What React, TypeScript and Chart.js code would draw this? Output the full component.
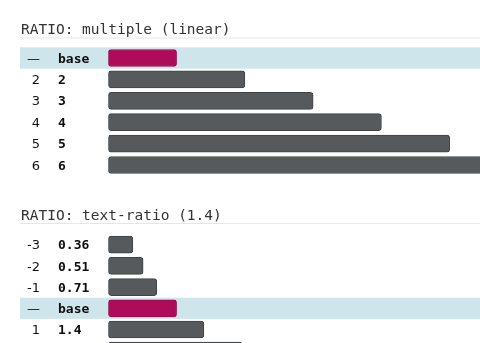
import React, { useEffect, useRef } from "react";
import { Chart, registerables } from "chart.js";

Chart.register(...registerables);

// Section 1: multiple (linear)
const linearTitle = "RATIO: multiple (linear)";
const linearSteps = ["—", "2", "3", "4", "5", "6"];
const linearLabels = ["base", "2", "3", "4", "5", "6"];
const linearValues = [1, 2, 3, 4, 5, 6];

// Section 2: text-ratio (1.4)
const ratioTitle = "RATIO: text-ratio (1.4)";
const ratioSteps = ["-3", "-2", "-1", "—", "1", "2"];
const ratioLabels = ["0.36", "0.51", "0.71", "base", "1.4", "1.96"];
const ratioValues = [0.36, 0.51, 0.71, 1, 1.4, 1.96];

const X_MAX = 6;
const BASE_COLOR = "#ae0b5b";
const BASE_BORDER = "#960a4f";
const BAR_COLOR = "#565a5d";
const BAR_BORDER = "#3f4346";
const HIGHLIGHT = "#cfe5ec";

type Cfg = {
  title: string;
  steps: string[];
  labels: string[];
  values: number[];
  titleBaseline: number;
  lineY: number;
  padTop: number;
  padBottom: number;
};

function makePlugin(cfg: Cfg) {
  return {
    id: "rowDecor",
    beforeDatasetsDraw(chart: any) {
      const ctx = chart.ctx as CanvasRenderingContext2D;
      const y = chart.scales.y;
      const w = chart.width;
      ctx.save();
      // title
      ctx.font = '14.5px "DejaVu Sans Mono"';
      ctx.fillStyle = "#333333";
      ctx.textAlign = "left";
      ctx.textBaseline = "alphabetic";
      ctx.fillText(cfg.title, 21, cfg.titleBaseline);
      ctx.fillStyle = "#e6e6e6";
      ctx.fillRect(20, cfg.lineY, w - 20, 1);
      // highlight row
      const pitch = Math.abs(y.getPixelForValue(1) - y.getPixelForValue(0));
      cfg.labels.forEach((lab, i) => {
        if (lab === "base") {
          const cy = y.getPixelForValue(i);
          ctx.fillStyle = HIGHLIGHT;
          ctx.fillRect(20, cy - pitch / 2, w - 20, pitch);
        }
      });
      // row texts
      cfg.labels.forEach((lab, i) => {
        const cy = y.getPixelForValue(i);
        ctx.fillStyle = "#111111";
        ctx.font = '13px "DejaVu Sans"';
        ctx.textAlign = "right";
        ctx.fillText(cfg.steps[i], 40, cy + 4.6);
        ctx.font = 'bold 13px "DejaVu Sans Mono"';
        ctx.textAlign = "left";
        ctx.fillStyle = "#0d0d0d";
        ctx.fillText(lab, 58, cy + 4.6);
      });
      ctx.restore();
    },
  };
}

function Section({ cfg, top }: { cfg: Cfg; top: number }) {
  const ref = useRef<HTMLCanvasElement | null>(null);
  useEffect(() => {
    if (!ref.current) return;
    const isBase = cfg.labels.map((l) => l === "base");
    const chart = new Chart(ref.current, {
      type: "bar",
      data: {
        labels: cfg.labels,
        datasets: [
          {
            data: cfg.values,
            backgroundColor: isBase.map((b) => (b ? BASE_COLOR : BAR_COLOR)),
            borderColor: isBase.map((b) => (b ? BASE_BORDER : BAR_BORDER)),
            borderWidth: 1,
            borderRadius: 3,
            borderSkipped: false,
            barThickness: 17,
          },
        ],
      },
      options: {
        indexAxis: "y",
        animation: false,
        responsive: false,
        devicePixelRatio: 1,
        layout: {
          padding: { left: 108.3, right: 2, top: cfg.padTop, bottom: cfg.padBottom },
        },
        plugins: {
          legend: { display: false },
          tooltip: { enabled: false },
          title: { display: false },
        },
        scales: {
          x: { type: "linear", min: 0, max: X_MAX, display: false },
          y: { type: "category", display: false, offset: true },
        },
      },
      plugins: [makePlugin(cfg)],
    } as any);
    return () => chart.destroy();
  }, [cfg]);
  return (
    <canvas
      ref={ref}
      width={520}
      height={190}
      style={{ position: "absolute", left: 0, top, width: 520, height: 190 }}
    />
  );
}

const cfg1: Cfg = {
  title: linearTitle,
  steps: linearSteps,
  labels: linearLabels,
  values: linearValues,
  titleBaseline: 34,
  lineY: 37.5,
  padTop: 47.3,
  padBottom: 14.3,
};

const cfg2: Cfg = {
  title: ratioTitle,
  steps: ratioSteps,
  labels: ratioLabels,
  values: ratioValues,
  titleBaseline: 29.5,
  lineY: 33,
  padTop: 44.1,
  padBottom: 18.7,
};

export default function App() {
  return (
    <div
      style={{
        position: "fixed",
        left: 0,
        top: 0,
        width: 480,
        height: 343,
        overflow: "hidden",
        background: "#ffffff",
      }}
    >
      <Section cfg={cfg1} top={0} />
      <Section cfg={cfg2} top={190} />
    </div>
  );
}
